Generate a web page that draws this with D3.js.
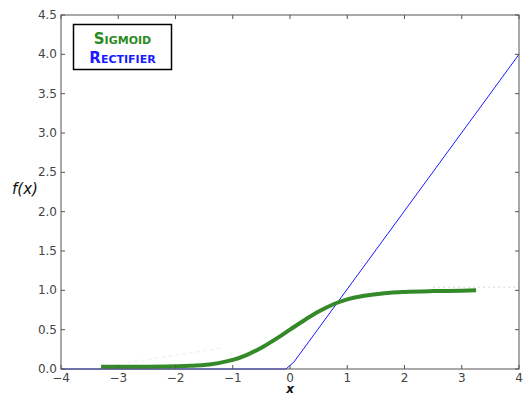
<!DOCTYPE html>
<html>
<head>
<meta charset="utf-8">
<script src="https://cdn.jsdelivr.net/npm/d3@7"></script>
<style>
  body { margin: 0; background: #fff; }
  svg { display: block; font-family: "DejaVu Sans", sans-serif; }
</style>
</head>
<body>
<svg id="chart" width="526" height="395"></svg>
<script>
// values
const sigmoidX = [-3.3, -3.0, -2.5, -2.0, -1.75, -1.5, -1.25, -1.0, -0.75, -0.5, -0.25, 0, 0.25, 0.5, 0.75, 1.0, 1.25, 1.5, 1.75, 2.0, 2.5, 3.0, 3.25];
const sigmoidY = [0.03, 0.03, 0.03, 0.035, 0.04, 0.05, 0.075, 0.115, 0.18, 0.27, 0.38, 0.5, 0.62, 0.73, 0.82, 0.885, 0.925, 0.95, 0.97, 0.98, 0.99, 0.995, 1.0];
const rectX = [-4, -0.07, 0.07, 4];
const rectY = [0, 0, 0.09, 4.0];
// faint ghost marks seen in the background
const ghostFlatX = [2.5, 4];
const ghostFlatY = [1.04, 1.04];
const ghostLowX = [-2.85, -1.17];
const ghostLowY = [0.08, 0.27];

const xTicks = [-4, -3, -2, -1, 0, 1, 2, 3, 4];
const yTicks = [0, 0.5, 1, 1.5, 2, 2.5, 3, 3.5, 4, 4.5];
const legendItems = [
  { label: "Sigmoid", color: "#2e8b1f" },
  { label: "Rectifier", color: "#1a1aff" }
];

const svg = d3.select("#chart");
const margin = { top: 15, right: 7, bottom: 26, left: 61 };
const width = 526, height = 395;

const x = d3.scaleLinear().domain([-4, 4]).range([margin.left, width - margin.right]);
const y = d3.scaleLinear().domain([0, 4.5]).range([height - margin.bottom, margin.top]);

const line = d3.line().x(d => x(d[0])).y(d => y(d[1]));
const zip = (a, b) => a.map((v, i) => [v, b[i]]);

// ghost marks
svg.append("path").datum(zip(ghostFlatX, ghostFlatY))
  .attr("d", line).attr("fill", "none")
  .attr("stroke", "#e4e4e4").attr("stroke-width", 1.5).attr("stroke-dasharray", "2,3");
svg.append("path").datum(zip(ghostLowX, ghostLowY))
  .attr("d", line).attr("fill", "none")
  .attr("stroke", "#f2f2f2").attr("stroke-width", 1.5).attr("stroke-dasharray", "4,3");

// rectifier
svg.append("path").datum(zip(rectX, rectY))
  .attr("d", line).attr("fill", "none")
  .attr("stroke", "#1a1aff").attr("stroke-width", 1);

// sigmoid
svg.append("path").datum(zip(sigmoidX, sigmoidY))
  .attr("d", line.curve(d3.curveMonotoneX)).attr("fill", "none")
  .attr("stroke", "#348a28").attr("stroke-width", 4).attr("stroke-linecap", "butt");

// axes (ticks inside, on all four sides)
const fmtY = d3.format(".1f");
const fmtX = d => (d < 0 ? "\u2212" + Math.abs(d) : String(d));
const tickLen = 4;

const gAxes = svg.append("g");
gAxes.append("rect")
  .attr("x", x(-4)).attr("y", y(4.5))
  .attr("width", x(4) - x(-4)).attr("height", y(0) - y(4.5))
  .attr("fill", "none").attr("stroke", "#555").attr("stroke-width", 1);

xTicks.forEach(t => {
  gAxes.append("line").attr("x1", x(t)).attr("x2", x(t))
    .attr("y1", y(0)).attr("y2", y(0) - tickLen).attr("stroke", "#555");
  gAxes.append("line").attr("x1", x(t)).attr("x2", x(t))
    .attr("y1", y(4.5)).attr("y2", y(4.5) + tickLen).attr("stroke", "#555");
  gAxes.append("text").attr("x", x(t)).attr("y", y(0) + 13)
    .attr("text-anchor", "middle").attr("font-size", 12).attr("fill", "#444")
    .text(fmtX(t));
});
yTicks.forEach(t => {
  gAxes.append("line").attr("x1", x(-4)).attr("x2", x(-4) + tickLen)
    .attr("y1", y(t)).attr("y2", y(t)).attr("stroke", "#555");
  gAxes.append("line").attr("x1", x(4)).attr("x2", x(4) - tickLen)
    .attr("y1", y(t)).attr("y2", y(t)).attr("stroke", "#555");
  gAxes.append("text").attr("x", x(-4) - 4).attr("y", y(t) + 4)
    .attr("text-anchor", "end").attr("font-size", 12).attr("fill", "#444")
    .text(fmtY(t));
});

// axis labels
svg.append("text").attr("x", x(0)).attr("y", 393)
  .attr("text-anchor", "middle").attr("font-size", 12)
  .attr("font-style", "italic").attr("font-weight", "bold").attr("fill", "#111")
  .text("x");
svg.append("text").attr("x", 25).attr("y", 194)
  .attr("text-anchor", "middle").attr("font-size", 15)
  .attr("font-style", "italic").attr("fill", "#111")
  .text("f(x)");

// legend
const lg = svg.append("g");
lg.append("rect").attr("x", 73.5).attr("y", 24.5).attr("width", 98).attr("height", 45)
  .attr("fill", "#fff").attr("stroke", "#000").attr("stroke-width", 1.5);
legendItems.forEach((d, i) => {
  lg.append("text").attr("x", 122.5).attr("y", 44 + i * 19)
    .attr("text-anchor", "middle").attr("font-size", 15).attr("font-weight", "bold")
    .attr("font-variant", "small-caps").attr("fill", d.color)
    .text(d.label);
});
</script>
</body>
</html>
